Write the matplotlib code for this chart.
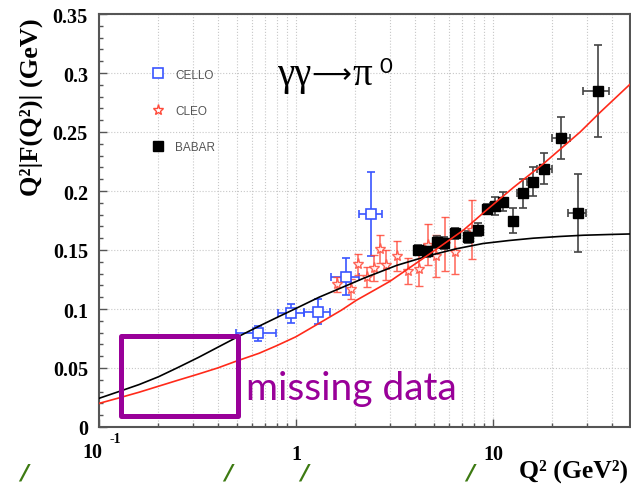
import numpy as np
import matplotlib
matplotlib.use('Agg')
import matplotlib.pyplot as plt
from matplotlib.lines import Line2D
from matplotlib.patches import Rectangle
from matplotlib.ticker import MultipleLocator, FixedLocator, NullFormatter, LogLocator

# CELLO points (Q^2 bin edges, value, error)
cello_q = [0.644, 0.943, 1.29, 1.79, 2.39]
cello_lo = [0.494, 0.81, 1.10, 1.51, 2.09]
cello_hi = [0.79, 1.10, 1.49, 2.09, 2.72]
cello_f = [0.0794, 0.0963, 0.0977, 0.1274, 0.1805]
cello_err = [0.0064, 0.008, 0.0106, 0.0158, 0.036]

# CLEO points
cleo_q = [1.61, 1.90, 2.07, 2.28, 2.49, 2.67, 2.88, 3.24, 3.72, 4.21, 4.66, 5.13, 5.70, 6.41, 7.8]
cleo_f = [0.121, 0.117, 0.138, 0.127, 0.135, 0.151, 0.137, 0.145, 0.132, 0.134, 0.1545, 0.145, 0.155, 0.148, 0.167]
cleo_err = [0.0064, 0.0085, 0.009, 0.0085, 0.011, 0.012, 0.0127, 0.013, 0.011, 0.0145, 0.0175, 0.018, 0.023, 0.0187, 0.025]

# BABAR points
babar_q = [4.18, 4.64, 5.21, 5.63, 6.41, 7.44, 8.36, 9.36, 10.2, 11.3, 12.7, 14.2, 15.9, 18.1, 22.1, 27.1, 34.0]
babar_lo = [3.98, 4.42, 4.96, 5.36, 6.1, 7.09, 7.96, 8.91, 9.71, 10.8, 12.1, 13.3, 14.8, 16.8, 19.9, 23.9, 28.8]
babar_hi = [4.39, 4.87, 5.47, 5.91, 6.73, 7.81, 8.78, 9.83, 10.7, 11.9, 13.3, 14.8, 16.8, 19.9, 24.6, 29.6, 38.9]
babar_f = [0.150, 0.149, 0.157, 0.156, 0.164, 0.161, 0.167, 0.1850, 0.1872, 0.191, 0.175, 0.198, 0.208, 0.219, 0.245, 0.181, 0.2845]
babar_err = [0.004, 0.005, 0.005, 0.005, 0.005, 0.005, 0.0055, 0.004, 0.0073, 0.0082, 0.0108, 0.012, 0.012, 0.013, 0.0177, 0.033, 0.039]

# theory curves
black_q = [0.1, 0.126, 0.16, 0.2, 0.25, 0.32, 0.4, 0.49, 0.65, 0.8, 1.0, 1.31, 1.7, 2.2, 3.25,
           4.8, 6.5, 8.9, 12.0, 16.0, 22.0, 28.7, 40.0, 50.0]
black_f = [0.0243, 0.0300, 0.0360, 0.0425, 0.0502, 0.0590, 0.0675, 0.0752, 0.0855, 0.0928, 0.1005,
           0.110, 0.118, 0.126, 0.137, 0.1455, 0.151, 0.1555, 0.158, 0.160, 0.1615, 0.1625, 0.1632, 0.1636]
red_q = [0.1, 0.126, 0.16, 0.2, 0.25, 0.32, 0.4, 0.49, 0.65, 0.8, 1.0, 1.31, 1.7, 2.03, 2.5, 3.0,
         4.8, 7.1, 9.3, 12.7, 18.0, 27.7, 35.0, 50.0]
red_f = [0.0200, 0.0246, 0.0295, 0.0345, 0.0395, 0.0449, 0.0500, 0.0554, 0.0625, 0.0690, 0.0765, 0.0879,
         0.099, 0.1075, 0.116, 0.1235, 0.147, 0.167, 0.184, 0.203, 0.223, 0.250, 0.2667, 0.291]

# "missing data" box (Q^2 range, value range)
box_q = (0.130, 0.508)
box_f = (0.0089, 0.0767)

y_ticks = [0, 0.05, 0.1, 0.15, 0.2, 0.25, 0.3, 0.35]
y_labels = ['0', '0.05', '0.1', '0.15', '0.2', '0.25', '0.3', '0.35']

blue = '#3a55ff'
red = '#ff4a3a'
purple = '#990099'
frame = '#555555'
serif = 'Liberation Serif'

fig = plt.figure(figsize=(6.31, 4.85), dpi=100)
ax = fig.add_axes([99/631, 57/485, 531/631, 413/485])
ax.set_xscale('log')

ax.grid(True, which='both', axis='x', ls=':', color='#c8c8c8', lw=0.8)
ax.grid(True, which='major', axis='y', ls=':', color='#c8c8c8', lw=0.8)
ax.set_axisbelow(True)

def edges(q, lo, hi):
    q = np.array(q)
    return [q - np.array(lo), np.array(hi) - q]

ax.errorbar(cello_q, cello_f, yerr=cello_err, xerr=edges(cello_q, cello_lo, cello_hi),
            fmt='s', ms=6.5, mfc='white', mec=blue, mew=1.2, ecolor=blue,
            elinewidth=1.2, capsize=3, capthick=1.2, zorder=3)
ax.errorbar(cleo_q, cleo_f, yerr=cleo_err, fmt='*', ms=8, mfc='white', mec=red, mew=1.0,
            ecolor=red, elinewidth=1.1, capsize=3, capthick=1.1, alpha=0.85, zorder=3)
ax.errorbar(babar_q, babar_f, yerr=babar_err, xerr=edges(babar_q, babar_lo, babar_hi),
            fmt='s', ms=7, mfc='black', mec='black', ecolor='#444444',
            elinewidth=1.2, capsize=3, capthick=1.2, zorder=3)

ax.plot(black_q, black_f, color='black', lw=1.2, zorder=4)
ax.plot(red_q, red_f, color='#ff2a1a', lw=1.2, zorder=4)

ax.add_patch(Rectangle((box_q[0], box_f[0]), box_q[1] - box_q[0], box_f[1] - box_f[0],
                       fill=False, ec=purple, lw=3.6, joinstyle='round', zorder=5))

ax.set_xlim(0.1, 49.6)
ax.set_ylim(0, 0.35)

# axes styling
for s in ax.spines.values():
    s.set_color(frame)
    s.set_linewidth(1.5)
ax.yaxis.set_major_locator(FixedLocator(y_ticks))
ax.yaxis.set_minor_locator(MultipleLocator(0.01))
ax.set_yticklabels(y_labels)
ax.xaxis.set_major_locator(FixedLocator([0.1, 1, 10]))
ax.xaxis.set_minor_locator(LogLocator(base=10, subs=np.arange(2, 10)))
ax.xaxis.set_minor_formatter(NullFormatter())
ax.set_xticklabels(['', '1', '10'])
ax.tick_params(which='both', direction='in', color=frame, width=1.0)
ax.tick_params(which='major', length=6)
ax.tick_params(which='minor', length=3)
ax.tick_params(axis='y', pad=8)
ax.tick_params(axis='x', pad=12)
for lab in ax.get_xticklabels() + ax.get_yticklabels():
    lab.set_fontfamily(serif)
    lab.set_fontweight('bold')
    lab.set_fontsize(14.5)

fig.text(92/631, 1 - 453/485, '10', family=serif, weight='bold', fontsize=14.5, ha='center', va='center')
fig.text(115/631, 1 - 440/485, '-1', family=serif, weight='bold', fontsize=10, ha='center', va='center')

fig.text(31/631, 1 - 107/485, 'Q²|F(Q²)| (GeV)', family=serif, weight='bold', fontsize=19,
         rotation=90, ha='center', va='center')
fig.text(628/631, 1 - 478/485, 'Q² (GeV²)', family=serif, weight='bold', fontsize=18.5,
         ha='right', va='baseline')

# reaction label
fig.text(277/631, 1 - 85/485, 'γγ', family=serif, fontsize=28, ha='left', va='baseline')
fig.text(311/631, 1 - 75/485, '⟶', family='DejaVu Sans', fontsize=20, ha='left', va='center')
fig.text(352/631, 1 - 85/485, 'π', family=serif, fontsize=28, ha='left', va='baseline')
fig.text(379/631, 1 - 73/485, '0', family='Lato', fontsize=16, ha='left', va='baseline')

fig.text(246/631, 1 - 400/485, 'missing data', family='Lato', fontsize=28, color=purple,
         ha='left', va='baseline')

handles = [
    Line2D([], [], ls='none', marker='s', ms=6.5, mfc='white', mec=blue, mew=1.2),
    Line2D([], [], ls='none', marker='*', ms=8, mfc='white', mec=red, mew=1.0),
    Line2D([], [], ls='none', marker='s', ms=7, mfc='black', mec='black'),
]
leg = ax.legend(handles, ['CELLO', 'CLEO', 'BABAR'], loc='upper left', bbox_to_anchor=(0.0998, 0.868),
                frameon=False, borderpad=0, borderaxespad=0, handlelength=1.0, handletextpad=0.95,
                labelspacing=2.05, prop={'family': 'Liberation Sans', 'size': 8.5})
for t in leg.get_texts():
    t.set_color('#555555')

# green slashes cropped from the slide below
for xs in [24, 228, 304, 470]:
    fig.text(xs/631, 1 - 474/485, '/', family='DejaVu Sans', weight='bold', style='italic',
             fontsize=16, color='#3d7a12', ha='center', va='center')

fig.savefig('out.png', dpi=100)
